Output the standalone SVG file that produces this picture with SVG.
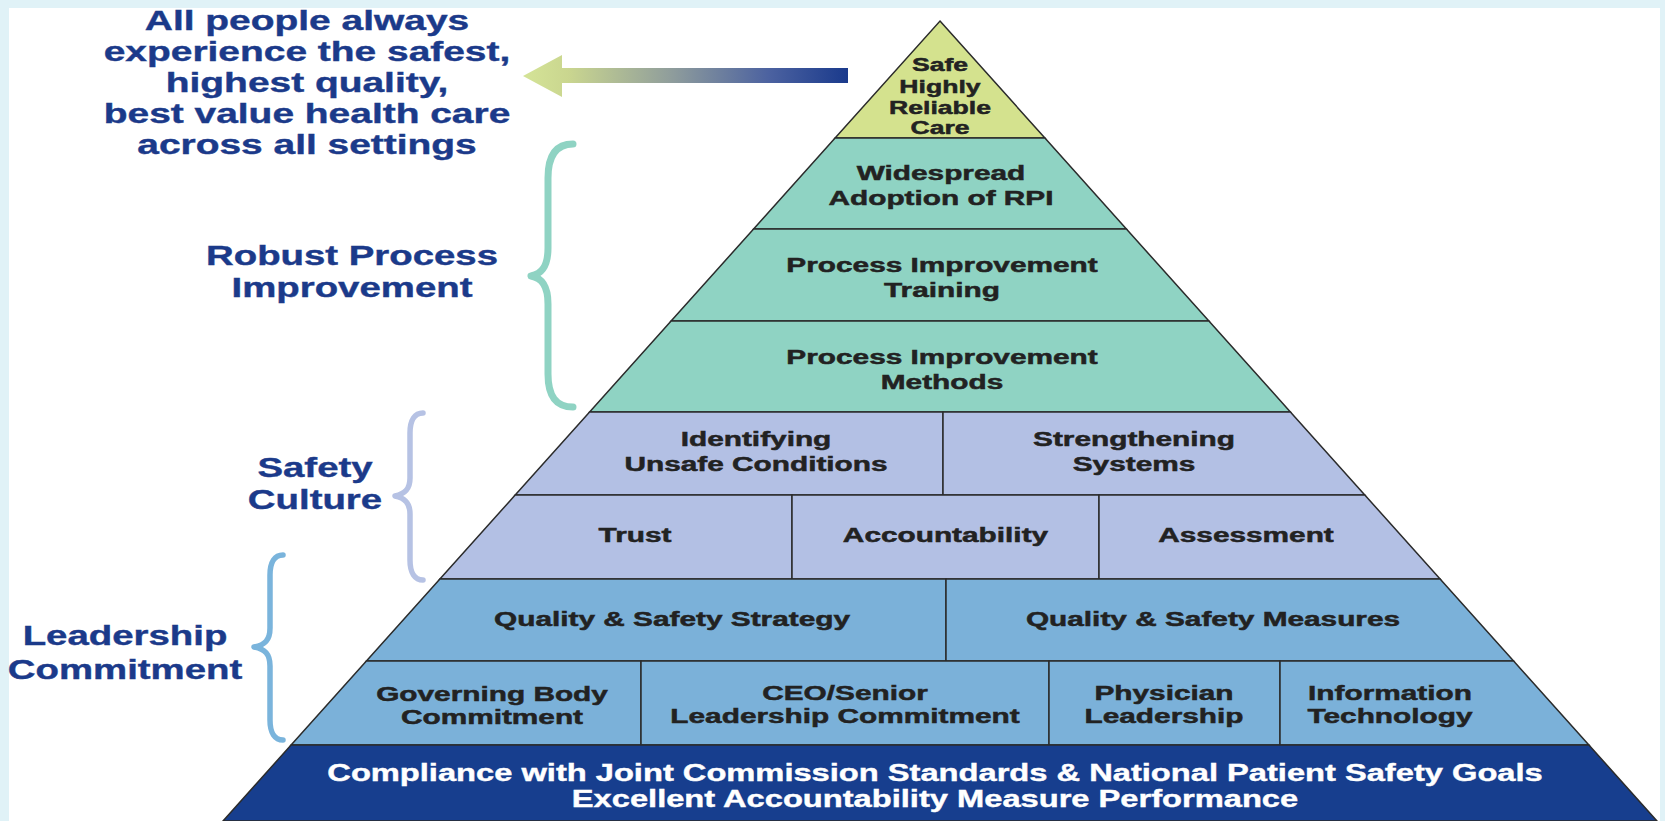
<svg xmlns="http://www.w3.org/2000/svg" width="1665" height="821" viewBox="0 0 1665 821">
<style>
.band{stroke:#2b2b2b;stroke-width:1.5;stroke-linejoin:miter}
.yel{fill:#d4e28e}
.teal{fill:#8fd3c3}
.lav{fill:#b3c0e4}
.blu{fill:#7bb1d9}
.dk{fill:#173e8e}
.pt{font-family:"Liberation Sans",Arial,sans-serif;font-weight:bold;font-size:21px;fill:#222;stroke:#222;stroke-width:0.5;text-anchor:middle}
.tt{font-family:"Liberation Sans",Arial,sans-serif;font-weight:bold;font-size:19px;fill:#222;stroke:#222;stroke-width:0.5;text-anchor:middle}
.wt{font-family:"Liberation Sans",Arial,sans-serif;font-weight:bold;font-size:23px;fill:#fff;stroke:#fff;stroke-width:0.4;text-anchor:middle}
.lb{font-family:"Liberation Sans",Arial,sans-serif;font-weight:bold;font-size:28px;fill:#1b3a8a;stroke:#1b3a8a;stroke-width:0.4;text-anchor:middle}
.brace{fill:none;stroke-linecap:round;stroke-linejoin:round}
</style>
<defs>
<linearGradient id="arrowGrad" gradientUnits="userSpaceOnUse" x1="530" y1="0" x2="848" y2="0">
<stop offset="0" stop-color="#d3e296"/>
<stop offset="0.12" stop-color="#cad68f"/>
<stop offset="0.45" stop-color="#8e9c9c"/>
<stop offset="0.75" stop-color="#4c62a0"/>
<stop offset="1" stop-color="#1a3a8c"/>
</linearGradient>
</defs>
<rect x="0" y="0" width="1665" height="821" fill="#e0f2f7"/>
<rect x="9" y="8" width="1651" height="813" fill="#ffffff"/>

<g id="goal-text">
<text class="lb" transform="translate(307,30) scale(1.39,1)">All people always</text>
<text class="lb" transform="translate(307,61) scale(1.39,1)">experience the safest,</text>
<text class="lb" transform="translate(307,92) scale(1.39,1)">highest quality,</text>
<text class="lb" transform="translate(307,123) scale(1.39,1)">best value health care</text>
<text class="lb" transform="translate(307,154) scale(1.39,1)">across all settings</text>
</g>
<g id="label-rpi">
<text class="lb" transform="translate(352,265) scale(1.37,1)">Robust Process</text>
<text class="lb" transform="translate(352,297) scale(1.37,1)">Improvement</text>
</g>
<g id="label-safety">
<text class="lb" transform="translate(315,477) scale(1.37,1)">Safety</text>
<text class="lb" transform="translate(315,509) scale(1.37,1)">Culture</text>
</g>
<g id="label-leadership">
<text class="lb" transform="translate(125,645) scale(1.37,1)">Leadership</text>
<text class="lb" transform="translate(125,679) scale(1.37,1)">Commitment</text>
</g>

<g id="connectors">
<path d="M523,76 L562,55 L562,68 L848,68 L848,83 L562,83 L562,97 Z" fill="url(#arrowGrad)"/>
<path class="brace" stroke="#8fd3c3" stroke-width="7" d="M573,144 C556,144 548,156 548,178 L548,248 C548,266 542,274 531,276 C542,278 548,286 548,304 L548,374 C548,396 556,407 573,407"/>
<path class="brace" stroke="#b6c2e4" stroke-width="5.5" d="M423,413 C415,413 410,420 410,433 L410,478 C410,489 405,494 395,496 C405,498 410,503 410,514 L410,560 C410,573 415,580 423,580"/>
<path class="brace" stroke="#7ab4dc" stroke-width="5.5" d="M283,555 C275,555 270,562 270,575 L270,628 C270,640 265,645 254,647 C265,649 270,654 270,666 L270,720 C270,733 275,740 283,740"/>
</g>

<g id="safe-care">
<polygon class="band yel" points="940,21 1044.9,138 835.1,138"/>
<text class="tt" transform="translate(940,71) scale(1.4,1)">Safe</text>
<text class="tt" transform="translate(940,92.5) scale(1.4,1)">Highly</text>
<text class="tt" transform="translate(940,114) scale(1.4,1)">Reliable</text>
<text class="tt" transform="translate(940,133.5) scale(1.4,1)">Care</text>
</g>
<g id="widespread">
<polygon class="band teal" points="835.1,138 1044.9,138 1126.4,229 753.6,229"/>
<text class="pt" transform="translate(941,179.5) scale(1.42,1)">Widespread</text>
<text class="pt" transform="translate(941,205) scale(1.42,1)">Adoption of RPI</text>
</g>
<g id="pi-training">
<polygon class="band teal" points="753.6,229 1126.4,229 1208.9,321 671.1,321"/>
<text class="pt" transform="translate(942,272) scale(1.42,1)">Process Improvement</text>
<text class="pt" transform="translate(942,296.5) scale(1.42,1)">Training</text>
</g>
<g id="pi-methods">
<polygon class="band teal" points="671.1,321 1208.9,321 1290.4,412 589.6,412"/>
<text class="pt" transform="translate(942,364) scale(1.42,1)">Process Improvement</text>
<text class="pt" transform="translate(942,388.5) scale(1.42,1)">Methods</text>
</g>
<g id="identifying">
<polygon class="band lav" points="589.6,412 943,412 943,495 515.2,495"/>
<text class="pt" transform="translate(756,445.5) scale(1.42,1)">Identifying</text>
<text class="pt" transform="translate(756,471) scale(1.42,1)">Unsafe Conditions</text>
</g>
<g id="strengthening">
<polygon class="band lav" points="943,412 1290.4,412 1364.8,495 943,495"/>
<text class="pt" transform="translate(1134,445.5) scale(1.42,1)">Strengthening</text>
<text class="pt" transform="translate(1134,471) scale(1.42,1)">Systems</text>
</g>
<g id="trust">
<polygon class="band lav" points="515.2,495 792,495 792,579 439.9,579"/>
<text class="pt" transform="translate(635,542) scale(1.42,1)">Trust</text>
</g>
<g id="accountability">
<polygon class="band lav" points="792,495 1099,495 1099,579 792,579"/>
<text class="pt" transform="translate(945.5,542) scale(1.42,1)">Accountability</text>
</g>
<g id="assessment">
<polygon class="band lav" points="1099,495 1364.8,495 1440.1,579 1099,579"/>
<text class="pt" transform="translate(1246,542) scale(1.42,1)">Assessment</text>
</g>
<g id="qs-strategy">
<polygon class="band blu" points="439.9,579 946,579 946,661 366.4,661"/>
<text class="pt" transform="translate(672,626) scale(1.42,1)">Quality &amp; Safety Strategy</text>
</g>
<g id="qs-measures">
<polygon class="band blu" points="946,579 1440.1,579 1513.6,661 946,661"/>
<text class="pt" transform="translate(1213,626) scale(1.42,1)">Quality &amp; Safety Measures</text>
</g>
<g id="governing">
<polygon class="band blu" points="366.4,661 641,661 641,745 291.1,745"/>
<text class="pt" transform="translate(492,701) scale(1.42,1)">Governing Body</text>
<text class="pt" transform="translate(492,724) scale(1.42,1)">Commitment</text>
</g>
<g id="ceo">
<polygon class="band blu" points="641,661 1049,661 1049,745 641,745"/>
<text class="pt" transform="translate(845,700) scale(1.42,1)">CEO/Senior</text>
<text class="pt" transform="translate(845,723) scale(1.42,1)">Leadership Commitment</text>
</g>
<g id="physician">
<polygon class="band blu" points="1049,661 1280,661 1280,745 1049,745"/>
<text class="pt" transform="translate(1164,700) scale(1.42,1)">Physician</text>
<text class="pt" transform="translate(1164,723) scale(1.42,1)">Leadership</text>
</g>
<g id="it">
<polygon class="band blu" points="1280,661 1513.6,661 1588.9,745 1280,745"/>
<text class="pt" transform="translate(1390,700) scale(1.42,1)">Information</text>
<text class="pt" transform="translate(1390,723) scale(1.42,1)">Technology</text>
</g>
<g id="compliance">
<polygon class="band dk" points="291.1,745 1588.9,745 1657,821 223,821"/>
<text class="wt" transform="translate(935,781) scale(1.42,1)">Compliance with Joint Commission Standards &amp; National Patient Safety Goals</text>
<text class="wt" transform="translate(935,807) scale(1.42,1)">Excellent Accountability Measure Performance</text>
</g>
</svg>
